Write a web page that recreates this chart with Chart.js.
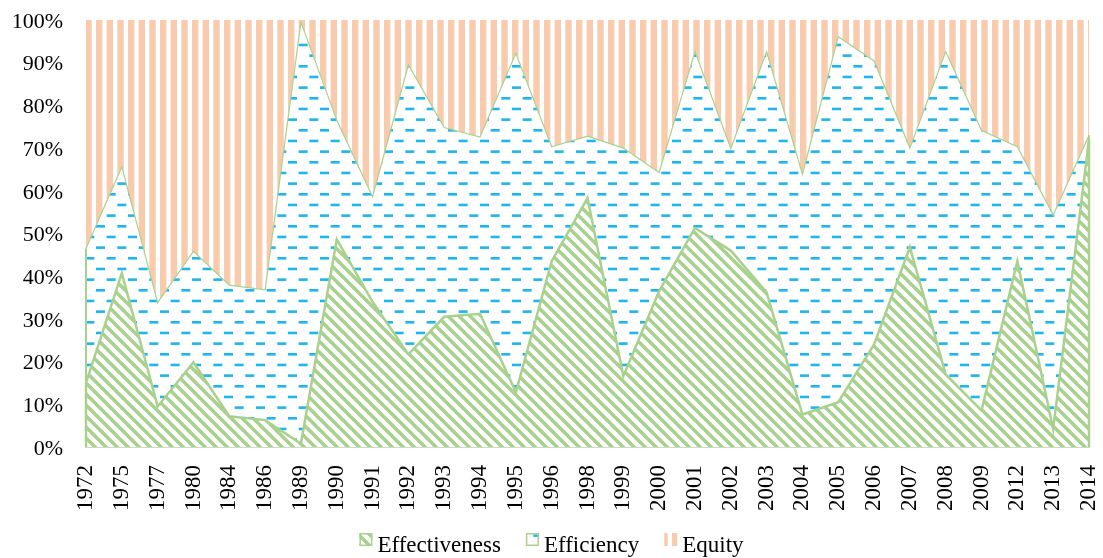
<!DOCTYPE html>
<html>
<head>
<meta charset="utf-8">
<script src="https://cdn.jsdelivr.net/npm/chart.js@4.4.1/dist/chart.umd.min.js"></script>
<style>
  html, body { margin: 0; padding: 0; background: #fff; }
  canvas { display: block; }
</style>
</head>
<body>
<canvas id="chart" width="1103" height="558"></canvas>
<script>
// Survey years (category axis)
const years = ['1972', '1975', '1977', '1980', '1984', '1986', '1989', '1990', '1991', '1992',
  '1993', '1994', '1995', '1996', '1998', '1999', '2000', '2001', '2002', '2003',
  '2004', '2005', '2006', '2007', '2008', '2009', '2012', '2013', '2014'];

// Share of each dimension per year (percent, each year sums to 100)
const effectiveness = [15, 40.7, 9.5, 19.8, 7.2, 6.3, 0.8, 48.6, 34, 21.7,
  30.5, 31.2, 12.8, 43.5, 58.3, 16.6, 36.5, 51.3, 46, 36.2,
  7.6, 10.5, 24, 46.8, 17, 8.6, 43.5, 4.2, 72];
const efficiency = [31.5, 24.9, 24.3, 26, 30.7, 30.5, 98.7, 27.9, 24.6, 67.8,
  44.3, 41.4, 79.4, 26.8, 14.5, 53.4, 27.8, 41.3, 23.9, 56.4,
  56.3, 85.6, 66.4, 23.2, 75.6, 65.5, 26.8, 50.1, 1];
const equity = [53.5, 34.4, 66.2, 54.2, 62.1, 63.2, 0.5, 23.5, 41.4, 10.5,
  25.2, 27.4, 7.8, 29.7, 27.2, 30, 35.7, 7.4, 30.1, 7.4,
  36.1, 3.9, 9.6, 30, 7.4, 25.9, 29.7, 45.7, 27];

const seriesNames = ['Effectiveness', 'Efficiency', 'Equity'];

const SERIF = '"Liberation Serif", "Times New Roman", serif';

// ---- fill patterns ----
function tile(w, h) {
  const c = document.createElement('canvas');
  c.width = w; c.height = h;
  const g = c.getContext('2d');
  g.fillStyle = '#fff';
  g.fillRect(0, 0, w, h);
  return [c, g];
}

function diagonalStripes(color) {
  const s = 11;
  const [c, g] = tile(s, s);
  g.strokeStyle = color;
  g.lineWidth = 3.6;
  for (let k = -1; k <= 1; k++) {
    g.beginPath();
    g.moveTo(k * s - 2, -2);
    g.lineTo(k * s + s + 2, s + 2);
    g.stroke();
  }
  return g.createPattern(c, 'repeat');
}

function dashRows(color) {
  const s = 64, row = s / 6, period = s / 3;
  const [c, g] = tile(s, s);
  g.fillStyle = color;
  for (let r = 0; r < 6; r++) {
    for (let j = 0; j < 3; j++) {
      const x = (r % 2) * (period / 2) + j * period;
      g.fillRect(x, r * row + 1, 9, 2.6);
    }
  }
  return g.createPattern(c, 'repeat');
}

function verticalStripes(color) {
  const s = 64, period = s / 6;
  const [c, g] = tile(s, s);
  g.fillStyle = color;
  for (let i = 0; i < 6; i++) g.fillRect(i * period, 0, 6.4, s);
  return g.createPattern(c, 'repeat');
}

// ---- vertical end edges of the outlined areas ----
const areaEdges = {
  id: 'areaEdges',
  afterDatasetsDraw(chart) {
    const { ctx } = chart;
    const base = chart.scales.y.getPixelForValue(0);
    for (let i = chart.data.datasets.length - 1; i >= 0; i--) {
      const ds = chart.data.datasets[i];
      if (!ds.edgeWidth) continue;
      const pts = chart.getDatasetMeta(i).data;
      ctx.save();
      ctx.strokeStyle = ds.borderColor;
      ctx.lineWidth = ds.edgeWidth;
      [pts[0], pts[pts.length - 1]].forEach(p => {
        ctx.beginPath();
        ctx.moveTo(p.x, base);
        ctx.lineTo(p.x, p.y);
        ctx.stroke();
      });
      ctx.restore();
    }
  }
};

// ---- legend row under the axis ----
const bottomLegend = {
  id: 'bottomLegend',
  afterDraw(chart) {
    const { ctx } = chart;
    const box = 13, textGap = 18, itemGap = 25;
    ctx.save();
    ctx.font = '23px ' + SERIF;
    const items = chart.data.datasets.map(ds => ({ ds, w: textGap + ctx.measureText(ds.label).width }));
    const total = items.reduce((a, it) => a + it.w, 0) + itemGap * (items.length - 1);
    let x = (chart.width - total) / 2;
    const boxTop = chart.height - 25;
    const baseline = chart.height - 6;
    items.forEach(({ ds, w }) => {
      ctx.fillStyle = ds.backgroundColor;
      ctx.fillRect(x, boxTop, box, box);
      if (ds.edgeWidth) {
        ctx.strokeStyle = ds.borderColor;
        ctx.lineWidth = 1.5;
        ctx.strokeRect(x + 0.75, boxTop + 0.75, box - 1.5, box - 1.5);
      }
      ctx.fillStyle = '#000';
      ctx.textBaseline = 'alphabetic';
      ctx.textAlign = 'left';
      ctx.fillText(ds.label, x + textGap, baseline);
      x += w + itemGap;
    });
    ctx.restore();
  }
};

const GREEN = '#a9d18e';

new Chart(document.getElementById('chart'), {
  type: 'line',
  data: {
    labels: years,
    datasets: [
      {
        label: seriesNames[0], data: effectiveness,
        backgroundColor: diagonalStripes(GREEN),
        borderColor: GREEN, borderWidth: 2.5, edgeWidth: 2.5,
        fill: 'origin', pointRadius: 0, tension: 0
      },
      {
        label: seriesNames[1], data: efficiency,
        backgroundColor: dashRows('#1cb6f0'),
        borderColor: GREEN, borderWidth: 1.2, edgeWidth: 2,
        fill: '-1', pointRadius: 0, tension: 0
      },
      {
        label: seriesNames[2], data: equity,
        backgroundColor: verticalStripes('#f8cbad'),
        borderColor: 'rgba(0,0,0,0)', borderWidth: 1,
        fill: '-1', pointRadius: 0, tension: 0
      }
    ]
  },
  options: {
    responsive: false,
    animation: false,
    layout: { padding: { top: 20, right: 14, bottom: 46, left: 12 } },
    plugins: {
      legend: { display: false },
      tooltip: { enabled: false }
    },
    scales: {
      x: {
        grid: { display: false, drawTicks: false },
        border: { display: true, color: '#cddcc0', width: 2 },
        ticks: {
          autoSkip: false, maxRotation: 90, minRotation: 90, padding: 18,
          color: '#000', font: { family: SERIF, size: 23 }
        },
        afterFit(scale) {
          scale.height = 65;
          scale.paddingLeft = 0;
          scale.paddingRight = 0;
        }
      },
      y: {
        stacked: true, min: 0, max: 100,
        grid: { display: false, drawTicks: false },
        border: { display: false },
        ticks: {
          stepSize: 10, padding: 23, labelOffset: 2, color: '#000',
          font: { family: SERIF, size: 22 },
          callback: v => v + '%'
        },
        afterFit(scale) {
          scale.width = 74;
          scale.paddingTop = 0;
          scale.paddingBottom = 0;
        }
      }
    }
  },
  plugins: [areaEdges, bottomLegend]
});
</script>
</body>
</html>
